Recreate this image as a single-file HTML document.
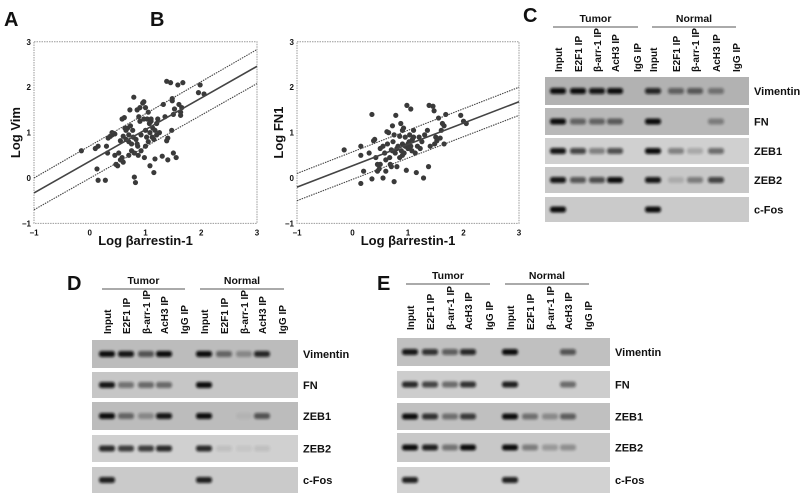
<!DOCTYPE html>
<html><head><meta charset="utf-8"><style>
body{margin:0;background:#fff;width:800px;height:499px;overflow:hidden}
svg{font-family:"Liberation Sans",Arial,sans-serif;display:block}
.t{font-weight:bold;fill:#111}
</style></head><body>
<svg id="fig" width="800" height="499" viewBox="0 0 800 499" xmlns="http://www.w3.org/2000/svg">
<defs><filter id="bl" x="-40%" y="-100%" width="180%" height="300%"><feGaussianBlur stdDeviation="1.2"/></filter></defs>
</svg>
<script>
const NS='http://www.w3.org/2000/svg';
const svg=document.getElementById('fig');
function mk(tag,attrs,parent,txt){const e=document.createElementNS(NS,tag);for(const k in attrs)e.setAttribute(k,attrs[k]);if(txt!==undefined)e.textContent=txt;(parent||svg).appendChild(e);return e;}

// ---------- scatter data ----------
const aX=[-0.15,0.1,0.15,0.13,0.15,0.28,0.3,0.32,0.33,0.37,0.4,0.42,0.45,0.45,0.47,0.5,0.52,0.55,0.55,0.58,0.6,0.58,0.62,0.63,0.65,0.65,0.68,0.7,0.7,0.72,0.73,0.75,0.75,0.77,0.78,0.79,0.8,0.82,0.8,0.83,0.85,0.86,0.87,0.88,0.9,0.9,0.92,0.92,0.95,0.97,0.97,0.98,1.0,1.0,1.02,1.03,1.05,1.05,1.07,1.08,1.08,1.1,1.12,1.13,1.15,1.15,1.17,1.17,1.2,1.22,1.25,1.3,1.32,1.35,1.38,1.38,1.4,1.4,1.45,1.47,1.48,1.48,1.5,1.5,1.52,1.55,1.58,1.6,1.63,1.63,1.65,1.67,1.95,1.98,2.05,0.4,0.6,1.2,0.85,1.0,0.7,1.1];
const aY=[0.6,0.65,0.7,0.2,-0.05,-0.05,0.7,0.55,0.88,0.92,0.95,0.98,0.97,0.5,0.3,0.27,0.55,0.82,0.4,0.45,0.35,1.3,1.33,1.1,1.05,0.85,1.1,0.8,0.5,1.5,1.15,0.75,0.6,1.05,0.9,1.78,0.02,-0.1,0.55,0.85,1.5,0.7,0.5,1.35,1.55,1.25,0.95,0.6,1.65,1.68,1.3,0.45,1.55,1.05,0.9,1.3,1.45,0.8,1.2,1.0,0.27,1.25,0.9,1.1,0.12,0.85,1.05,0.42,1.2,1.3,1.0,0.48,1.62,1.35,2.13,0.82,0.4,0.88,2.1,1.05,1.7,1.75,1.4,0.55,1.52,0.45,2.05,1.62,1.45,1.38,1.55,2.1,1.88,2.05,1.85,1.0,0.92,0.95,0.75,0.7,0.95,1.3];
const aFit=[-0.33,2.46], aCIup=[0.0,2.83], aCIlo=[-0.7,2.08];
const bX=[-0.15,0.15,0.15,0.15,0.2,0.3,0.35,0.35,0.38,0.4,0.42,0.45,0.48,0.5,0.5,0.55,0.55,0.58,0.6,0.62,0.63,0.65,0.67,0.68,0.7,0.72,0.72,0.73,0.75,0.77,0.78,0.8,0.8,0.82,0.85,0.85,0.87,0.88,0.9,0.9,0.92,0.93,0.95,0.97,0.98,1.0,1.02,1.03,1.05,1.05,1.07,1.08,1.1,1.13,1.15,1.17,1.2,1.22,1.28,1.3,1.35,1.37,1.38,1.4,1.45,1.47,1.48,1.5,1.52,1.55,1.58,1.6,1.62,1.65,1.65,1.68,1.95,2.0,2.05,0.45,0.6,0.75,0.95,1.0,1.1,0.9,0.7,1.25];
const bY=[0.62,0.5,0.7,-0.12,0.15,0.55,1.4,-0.02,0.82,0.85,0.45,0.15,0.2,0.3,0.65,0.0,0.7,0.55,0.15,1.02,0.75,1.0,0.45,0.3,0.25,0.6,1.15,0.8,-0.08,0.55,1.38,0.25,0.65,0.7,0.45,0.92,1.2,0.6,1.05,0.75,1.1,0.55,0.9,0.17,1.6,0.65,0.8,0.95,1.52,0.7,0.6,0.85,1.05,0.55,0.12,0.7,0.9,0.65,0.0,0.95,1.05,0.25,1.6,0.7,1.58,1.48,0.75,0.9,0.82,1.32,0.88,1.05,1.2,0.75,1.15,1.4,1.38,1.25,1.2,0.3,0.4,0.95,0.7,0.75,0.9,0.5,0.62,0.8];
const bFit=[-0.2,1.68], bCIup=[0.1,2.0], bCIlo=[-0.5,1.38];
const xTicks=['-1','0','1','2','3'], yTicks=['3','2','1','0','-1'];

function scatter(id,x0,x1,xs,ys,fit,up,lo,ylab,letter,lx){
  const y0=178, ypx=45.4;
  const sx=v=>x0+(v+1)*(x1-x0)/4, sy=v=>y0-v*ypx;
  const g=mk('g',{},svg);
  
  
  const L=mk('text',{x:lx,y:26,'font-size':20,class:'t'},g,letter);
  
  const box=mk('rect',{x:x0,y:sy(3),width:x1-x0,height:sy(-1)-sy(3),fill:'none',stroke:'#9a9a9a','stroke-width':1,'stroke-dasharray':'1.5,1'},g);
  
  xTicks.forEach((t,i)=>{const v=+t;const e=mk('text',{x:sx(v),y:sy(-1)+12,'font-size':8,'text-anchor':'middle',class:'t'},g,t==='-1'?'−1':t);
    });
  yTicks.forEach(t=>{const v=+t;const e=mk('text',{x:x0-3,y:sy(v)+3,'font-size':8,'text-anchor':'end',class:'t'},g,t==='-1'?'−1':t);
    });
  xs.forEach((v,i)=>{const c=mk('circle',{cx:sx(v),cy:sy(ys[i]),r:2.6,fill:'#3a3a3a'},g);
    });
  const fl=mk('line',{x1:sx(-1),y1:sy(fit[0]),x2:sx(3),y2:sy(fit[1]),stroke:'#444','stroke-width':1.6},g);
  
  [up,lo].forEach(c=>{const l=mk('line',{x1:sx(-1),y1:sy(c[0]),x2:sx(3),y2:sy(c[1]),stroke:'#444','stroke-width':1.1,'stroke-dasharray':'1.5,1'},g);
    });
  const xt=mk('text',{x:(x0+x1)/2,y:245,'font-size':13,'text-anchor':'middle',class:'t'},g,'Log βarrestin-1');
  
  const yt=mk('text',{x:0,y:0,'font-size':13,'text-anchor':'middle',class:'t',transform:`translate(${x0-14},${sy(1)}) rotate(-90)`},g,ylab);
  
}
scatter('a',34,257,aX,aY,aFit,aCIup,aCIlo,'Log Vim','A',4);
scatter('b',297,519,bX,bY,bFit,bCIup,bCIlo,'Log FN1','B',150);

// ---------- gels ----------
const laneNames=['Input','E2F1 IP','β-arr-1 IP','AcH3 IP','IgG IP','Input','E2F1 IP','β-arr-1 IP','AcH3 IP','IgG IP'];
const geneNames=['Vimentin','FN','ZEB1','ZEB2','c-Fos'];
const cBands=[[1,1,.95,1,0,.85,.5,.55,.4,0],[1,.5,.5,.55,0,1,0,0,.35,0],[.95,.7,.4,.65,0,1,.4,.2,.5,0],[.95,.6,.65,1,0,.95,.15,.4,.7,0],[1,0,0,0,0,1,0,0,0,0]];
const dBands=[[1,.95,.6,1,0,1,.5,.3,.85,0],[.95,.45,.5,.5,0,1,0,0,0,0],[1,.5,.3,.95,0,1,0,.05,.6,0],[.85,.75,.75,.85,0,.85,.08,.05,.08,0],[.9,0,0,0,0,.9,0,0,0,0]];
const eBands=[[.95,.8,.55,.85,0,1,0,0,.6,0],[.85,.7,.5,.8,0,.9,0,0,.5,0],[1,.8,.45,.75,0,1,.45,.3,.55,0],[1,.9,.45,1,0,1,.4,.25,.3,0],[.9,0,0,0,0,.9,0,0,0,0]];

function gel(id,letter,lx,ly,gx0,gx1,rows,lanes,bands,bgs,tumorLine,normLine,lineY,labelBottom){
  const g=mk('g',{},svg);
  
  const L=mk('text',{x:lx,y:ly,'font-size':20,class:'t'},g,letter);
  
  [['Tumor',tumorLine],['Normal',normLine]].forEach(([nm,ln])=>{
    const t=mk('text',{x:(ln[0]+ln[1])/2,y:lineY-5,'font-size':10.5,'text-anchor':'middle',class:'t'},g,nm);
    
    const l=mk('line',{x1:ln[0],y1:lineY,x2:ln[1],y2:lineY,stroke:'#555','stroke-width':1},g);
    
  });
  lanes.forEach((x,i)=>{const t=mk('text',{x:0,y:0,'font-size':10,class:'t',fill:i%5===2?'#333':'#111',transform:`translate(${x+4},${labelBottom}) rotate(-90)`},g,laneNames[i]);
    });
  rows.forEach((r,ri)=>{
    const bg=mk('rect',{x:gx0,y:r[0],width:gx1-gx0,height:r[1]-r[0],fill:bgs[ri]},g);
    
    const cy=(r[0]+r[1])/2;
    lanes.forEach((x,li)=>{const v=bands[ri][li];if(v<=0)return;
      const b=mk('rect',{x:x-8,y:cy-3,width:16,height:6,rx:2.5,fill:'#0a0a0a',opacity:Math.min(1,v),filter:'url(#bl)'},g);
      });
    const gl=mk('text',{x:gx1+5,y:cy+4,'font-size':11,class:'t'},g,geneNames[ri]);
    
  });
}
gel('c','C',523,22,545,749,[[77,105],[108,135],[138,164],[167,193],[197,222]],[558,578,597,615,637,653,676,695,716,736],cBands,['#b2b2b2','#b8b8b8','#d0d0d0','#c8c8c8','#cacaca'],[553,638],[652,736],27,72);
gel('d','D',67,290,92,298,[[340,368],[372,398],[402,430],[435,462],[467,493]],[107,126,146,164,184,204,224,244,262,282],dBands,['#bcbcbc','#c6c6c6','#bcbcbc','#d0d0d0','#cacaca'],[102,185],[200,284],289,334);
gel('e','E',377,290,397,610,[[338,366],[371,398],[403,430],[433,462],[467,493]],[410,430,450,468,489,510,530,550,568,588],eBands,['#c0c0c0','#cdcdcd','#c0c0c0','#c8c8c8','#d2d2d2'],[406,490],[505,589],284,330);
</script>
</body></html>
